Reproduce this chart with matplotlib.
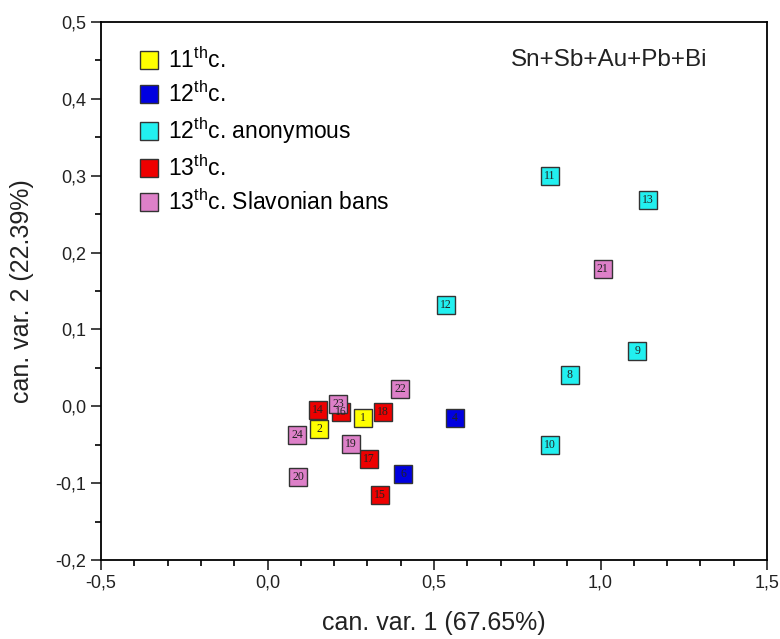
import numpy as np
import matplotlib
matplotlib.use('Agg')
import matplotlib.pyplot as plt
import matplotlib.ticker as ticker

plt.rcParams['font.family'] = ['Liberation Sans', 'DejaVu Sans']
plt.rcParams['mathtext.fontset'] = 'custom'
plt.rcParams['mathtext.rm'] = 'Liberation Sans'

# canonical scores per coin, grouped by period
groups = ['11$^{\\mathrm{th}}$c.', '12$^{\\mathrm{th}}$c.', '12$^{\\mathrm{th}}$c. anonymous',
          '13$^{\\mathrm{th}}$c.', '13$^{\\mathrm{th}}$c. Slavonian bans']
colors = ['#ffff00', '#0000e0', '#22f0f0', '#ee0000', '#dd80c8']

ids_11 = [1, 2]
x_11 = [0.287, 0.155]
y_11 = [-0.015, -0.029]

ids_12 = [4, 6]
x_12 = [0.563, 0.407]
y_12 = [-0.015, -0.088]

ids_12a = [8, 9, 10, 11, 12, 13]
x_12a = [0.908, 1.110, 0.848, 0.848, 0.536, 1.143]
y_12a = [0.041, 0.072, -0.050, 0.300, 0.132, 0.269]

ids_13 = [14, 15, 16, 17, 18]
x_13 = [0.152, 0.338, 0.221, 0.305, 0.347]
y_13 = [-0.005, -0.115, -0.008, -0.068, -0.007]

ids_13s = [19, 20, 21, 22, 23, 24]
x_13s = [0.251, 0.092, 1.007, 0.398, 0.212, 0.089]
y_13s = [-0.049, -0.092, 0.178, 0.023, 0.003, -0.037]

data = [(ids_11, x_11, y_11), (ids_12, x_12, y_12), (ids_12a, x_12a, y_12a),
        (ids_13, x_13, y_13), (ids_13s, x_13s, y_13s)]

fig = plt.figure(figsize=(7.8, 6.39), dpi=100)
ax = fig.add_axes([101/780, 1 - 560/639, 666/780, 538/639])

for (ids, xs, ys), c, lab in zip(data, colors, groups):
    ax.plot(xs, ys, 's', ms=13, mfc=c, mec='#333333', mew=1.0, label=lab)
    for i, xv, yv in zip(ids, xs, ys):
        ax.text(xv, yv, str(i), ha='center', va='center', fontsize=8.5,
                family='Liberation Serif', color='#222222')

ax.set_xlim(-0.5, 1.5)
ax.set_ylim(-0.2, 0.5)
ax.xaxis.set_major_locator(ticker.MultipleLocator(0.5))
ax.xaxis.set_minor_locator(ticker.MultipleLocator(0.1))
ax.yaxis.set_major_locator(ticker.MultipleLocator(0.1))
ax.yaxis.set_minor_locator(ticker.MultipleLocator(0.05))
ax.xaxis.set_major_formatter(ticker.FuncFormatter(lambda v, p: f'{v:.1f}'.replace('.', ',')))
ax.yaxis.set_major_formatter(ticker.FuncFormatter(lambda v, p: f'{v:.1f}'.replace('.', ',')))
ax.tick_params(which='major', direction='out', length=7, width=1.2, labelsize=13, colors='#222222')
ax.tick_params(which='minor', direction='out', length=4, width=1.2)
for s in ax.spines.values():
    s.set_linewidth(1.3)

ax.set_xlabel('can. var. 1 (67.65%)', fontsize=18, color='#222222')
ax.set_ylabel('can. var. 2 (22.39%)', fontsize=18, color='#222222')
ax.xaxis.set_label_coords(0.5, -0.095)
ax.yaxis.set_label_coords(-0.1, 0.5)

ax.text(0.91, 0.918, 'Sn+Sb+Au+Pb+Bi', transform=ax.transAxes, ha='right', va='baseline',
        fontsize=17.5, color='#222222')

ax.legend(loc='upper left', bbox_to_anchor=(0.02, 0.992), frameon=False, fontsize=16.5,
          handletextpad=0.25, labelspacing=0.38, markerscale=1.0, handlelength=1.2)

fig.savefig('out.png')
